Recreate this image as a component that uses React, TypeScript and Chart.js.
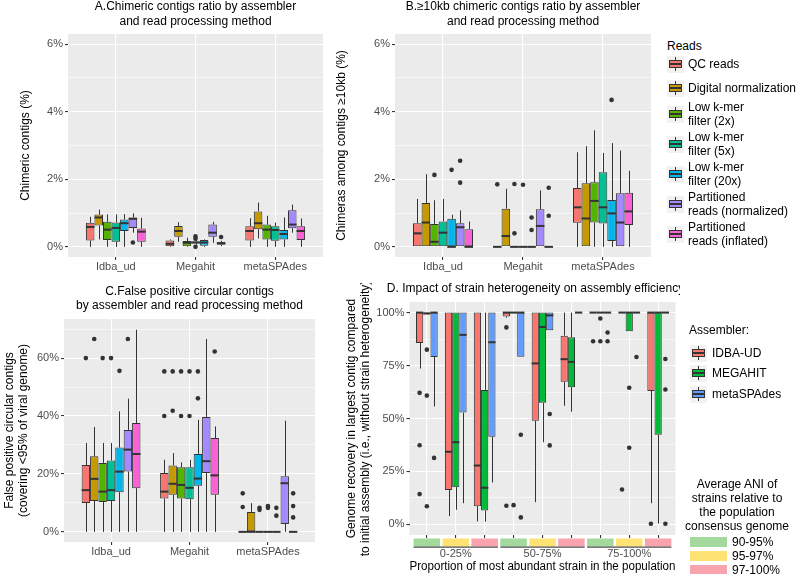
import React, { useEffect, useRef } from 'react';
import { Chart, registerables } from 'chart.js';

Chart.register(...registerables);

const FONT = '"Liberation Sans", Arial, Helvetica, sans-serif';

// ---------- shared categories ----------
const assemblerCats = ['Idba_ud', 'Megahit', 'metaSPAdes'];
const readTypes = [
  'QC reads', 'Digital normalization', 'Low k-mer filter (2x)', 'Low k-mer filter (5x)',
  'Low k-mer filter (20x)', 'Partitioned reads (normalized)', 'Partitioned reads (inflated)',
];
const readLegendLines = [
  ['QC reads'], ['Digital normalization'], ['Low k-mer', 'filter (2x)'], ['Low k-mer', 'filter (5x)'],
  ['Low k-mer', 'filter (20x)'], ['Partitioned', 'reads (normalized)'], ['Partitioned', 'reads (inflated)'],
];
const readColors = ['#F8766D', '#C49A00', '#53B400', '#00C094', '#00B6EB', '#A58AFF', '#FB61D7'];

// ---------- Panel A: chimeric contigs (%) ; [min, q1, median, q3, max] per assembler ----------
const chimericBoxes = [
  [[0, 0.19, 0.59, 0.71, 0.89], [0, 0.02, 0.09, 0.19, 0.22], [0, 0.19, 0.47, 0.61, 0.85]],
  [[0.22, 0.63, 0.87, 0.96, 1.1], [0.15, 0.3, 0.47, 0.62, 0.73], [0.25, 0.52, 0.7, 1.05, 1.31]],
  [[0, 0.2, 0.51, 0.74, 0.96], [0, 0.02, 0.12, 0.17, 0.27], [0, 0.22, 0.51, 0.66, 0.92]],
  [[0, 0.15, 0.56, 0.72, 0.96], [0.06, 0.1, 0.13, 0.16, 0.2], [0, 0.18, 0.5, 0.61, 0.72]],
  [[0, 0.47, 0.7, 0.81, 0.97], [0, 0.03, 0.13, 0.2, 0.22], [0, 0.22, 0.38, 0.5, 0.87]],
  [[0.42, 0.56, 0.83, 0.87, 0.99], [0.12, 0.3, 0.42, 0.66, 0.74], [0.42, 0.55, 0.66, 1.08, 1.25]],
  [[0, 0.15, 0.45, 0.54, 0.86], [0.02, 0.06, 0.11, 0.14, 0.18], [0, 0.2, 0.47, 0.61, 0.84]],
];
const chimericOutliers = [
  [[], [], []],
  [[], [], []],
  [[], [], []],
  [[], [0.31, 0.24, 0], []],
  [[], [], []],
  [[0.13], [], []],
  [[], [0.29], []],
];
const chimericTicks = [0, 1, 2, 3, 4, 5, 6];
const chimericMajor = [0, 2, 4, 6];

// ---------- Panel B: chimeras among contigs >=10kb (%) ----------
const longChimBoxes = [
  [[0, 0, 0.4, 0.7, 1.42], [0, 0, 0, 0, 0], [0, 0.71, 1.17, 1.74, 2.8]],
  [[0, 0, 0.72, 1.3, 2.15], [0, 0, 0.32, 1.13, 1.72], [0, 0, 0.84, 1.88, 2.98]],
  [[0, 0, 0.15, 0.68, 1.38], [0, 0, 0, 0, 0], [0, 0.72, 1.36, 1.91, 3.45]],
  [[0, 0, 0.42, 0.75, 1.42], [0, 0, 0, 0, 0], [0, 0.69, 1.17, 2.21, 2.78]],
  [[0, 0, 0, 0.83, 0.95], [0, 0, 0, 0, 0], [0, 0.17, 0.99, 1.39, 3.07]],
  [[0, 0, 0.58, 0.7, 1.08], [0, 0, 0.62, 1.11, 1.67], [0, 0, 0.72, 1.59, 2.85]],
  [[0, 0, 0, 0.52, 0.75], [0, 0, 0, 0, 0], [0, 0.65, 1.05, 1.6, 2.25]],
];
const longChimOutliers = [
  [[], [1.85], []],
  [[], [], []],
  [[2.13], [1.86, 0.4], []],
  [[], [1.84], []],
  [[2.28], [0.87, 0.5], [4.35]],
  [[2.55, 1.9], [], []],
  [[], [1.75, 0.92], []],
];

// ---------- Panel C: false positive circular contigs (%) ----------
const circularBoxes = [
  [[0, 10, 14.4, 23.1, 30.7], [0, 11.5, 13.9, 20.3, 24.9], [0, 0, 0, 0, 0]],
  [[0, 10.7, 18.3, 26.1, 36.2], [0, 12.8, 16.6, 22.9, 27.2], [0, 0, 0, 6.9, 9.9]],
  [[0, 10.3, 13.9, 23.8, 30.7], [0, 11.5, 16.2, 22.3, 24], [0, 0, 0, 0, 0]],
  [[0, 10.7, 14.4, 24.6, 30.7], [0, 11.3, 15.2, 22.3, 24.9], [0, 0, 0, 0, 0]],
  [[0, 13.7, 20.8, 29.1, 41.6], [0, 15.9, 18.4, 26.9, 38.7], [0, 0, 0, 0, 0]],
  [[0, 20.8, 28.4, 35.2, 46], [0, 20.3, 24.4, 39.7, 66.6], [0, 2.7, 16.8, 19.2, 38.4]],
  [[0, 15.1, 26.9, 37.6, 69.8], [0, 12.8, 19.5, 32.4, 36.4], [0, 0, 0, 0, 0]],
];
const circularOutliers = [
  [[60], [55.4, 40], [13.3, 8.6]],
  [[66.6], [55.4, 41.8], []],
  [[60], [55.4, 40], [8.3, 7.6]],
  [[60], [55.4, 40], [8.9, 8.3]],
  [[55.6], [55.4, 46.1], [8.3, 5.6]],
  [[66.6], [], []],
  [[], [62.3], [13.3, 8.9, 5]],
];
const circularTicks = [0, 10, 20, 30, 40, 50, 60, 70];
const circularMajor = [0, 20, 40, 60];

// ---------- Panel D: genome recovery (%) ----------
const proportionGroups = ['0-25%', '50-75%', '75-100%'];
const aniLevels = ['90-95%', '95-97%', '97-100%'];
const aniColors = ['#A3D99C', '#FFE274', '#F9A3AE'];
const assemblerNames = ['IDBA-UD', 'MEGAHIT', 'metaSPAdes'];
const assemblerColors = ['#F8766D', '#00BA38', '#619CFF'];
const recoveryBoxes = [
  [[73.6, 85.7, 100, 100, 100], [3.9, 16.2, 34.3, 100, 100], [1.4, 8.6, 27.8, 100, 100],
   [97.6, 98.2, 100, 100, 100], [10.5, 48.9, 76, 100, 100], [56, 67.3, 78, 89.1, 100],
   [100, 100, 100, 100, 100], [100, 100, 100, 100, 100], [10, 63, 100, 100, 100]],
  [[99, 99.2, 99.6, 100, 100], [6.9, 17.6, 38.8, 100, 100], [1.3, 6.6, 17.3, 63.5, 100],
   [100, 100, 100, 100, 100], [38.8, 57.4, 93.2, 100, 100], [53.2, 64.8, 76.7, 88.4, 100],
   [100, 100, 100, 100, 100], [91.2, 91.2, 100, 100, 100], [0.4, 42.3, 100, 100, 100]],
  [[55.7, 79, 100, 100, 100], [10, 52.8, 89.5, 100, 100], [19.8, 41.4, 86, 100, 100],
   [79.2, 79.2, 100, 100, 100], [91.7, 91.7, 98.7, 100, 100], [100, 100, 100, 100, 100],
   [100, 100, 100, 100, 100], [100, 100, 100, 100, 100], [100, 100, 100, 100, 100]],
];
const recoveryOutliers = [
  [[62.1, 37.4, 14.3], [], [], [93, 8.8], [], [], [86.5], [16.5], [0.3]],
  [[82.5, 60.8, 8.6], [], [], [9.1], [], [], [97.2, 86.5], [64.5, 36.2], []],
  [[31.4], [], [], [42.3, 3.3], [52.1, 37.3], [], [90.6, 86.5], [79], [78.1, 63.7, 0.3]],
];
const recoveryTicks = [0, 12.5, 25, 37.5, 50, 62.5, 75, 87.5, 100];
const recoveryMajor = [0, 25, 50, 75, 100];

// ---------- box plot plugin ----------
const boxPlotPlugin = {
  id: 'boxPlot',
  beforeDraw(chart: any) {
    const { ctx, chartArea: a } = chart;
    ctx.save();
    ctx.fillStyle = '#EBEBEB';
    ctx.fillRect(a.left, a.top, a.right - a.left, a.bottom - a.top);
    ctx.restore();
  },
  beforeDatasetsDraw(chart: any) {
    const { ctx } = chart;
    const ys = chart.scales.y;
    ctx.save();
    ctx.strokeStyle = '#333333';
    ctx.lineWidth = 1;
    chart.data.datasets.forEach((ds: any, di: number) => {
      chart.getDatasetMeta(di).data.forEach((el: any, i: number) => {
        const s = ds.stats[i];
        const x = Math.round(el.x) + 0.5;
        ctx.beginPath();
        ctx.moveTo(x, ys.getPixelForValue(s[3]));
        ctx.lineTo(x, ys.getPixelForValue(s[4]));
        ctx.moveTo(x, ys.getPixelForValue(s[1]));
        ctx.lineTo(x, ys.getPixelForValue(s[0]));
        ctx.stroke();
      });
    });
    ctx.restore();
  },
  afterDatasetsDraw(chart: any) {
    const { ctx } = chart;
    const ys = chart.scales.y;
    ctx.save();
    chart.data.datasets.forEach((ds: any, di: number) => {
      chart.getDatasetMeta(di).data.forEach((el: any, i: number) => {
        const s = ds.stats[i];
        const hw = el.width / 2;
        const ym = ys.getPixelForValue(s[2]);
        ctx.strokeStyle = '#333333';
        ctx.lineWidth = 2;
        ctx.beginPath();
        ctx.moveTo(el.x - hw, ym);
        ctx.lineTo(el.x + hw, ym);
        ctx.stroke();
        ctx.fillStyle = '#333333';
        (ds.outliers[i] || []).forEach((v: number) => {
          ctx.beginPath();
          ctx.arc(el.x, ys.getPixelForValue(v), 2.3, 0, Math.PI * 2);
          ctx.fill();
        });
      });
    });
    ctx.restore();
  },
  afterDraw(chart: any, _args: any, opts: any) {
    const { ctx, chartArea: a } = chart;
    ctx.save();
    ctx.fillStyle = '#000000';
    ctx.font = `12px ${FONT}`;
    ctx.textAlign = 'center';
    ctx.textBaseline = 'middle';
    const cx = (a.left + a.right) / 2 + (opts.titleDx || 0);
    (opts.title || []).forEach((line: string, i: number) => {
      ctx.fillText(line, cx, a.top + opts.titleY[i]);
    });
    if (opts.strips) {
      const xs = chart.scales.x;
      const { colors, groupSize } = opts.strips;
      const edges: number[][] = [];
      colors.forEach((c: string, i: number) => {
        const v = i + 1;
        const l = xs.getPixelForValue(v - 0.5) + 1.2;
        const r = xs.getPixelForValue(v + 0.5) - 1.2;
        ctx.fillStyle = c;
        ctx.fillRect(l, a.bottom + 3.5, r - l, 8);
        edges.push([l, r]);
      });
      ctx.strokeStyle = '#4D4D4D';
      ctx.lineWidth = 1.3;
      for (let g = 0; g < colors.length / groupSize; g++) {
        const l = edges[g * groupSize][0];
        const r = edges[g * groupSize + groupSize - 1][1];
        ctx.beginPath();
        ctx.moveTo(l, a.bottom + 12.2);
        ctx.lineTo(r, a.bottom + 12.2);
        ctx.stroke();
      }
    }
    ctx.restore();
  },
};

// ---------- chart config builder ----------
function boxConfig(p: any) {
  const datasets = p.groups.map((g: string, gi: number) => ({
    label: g,
    data: p.boxes[gi].map((s: number[], ci: number) => ({ x: ci + 1, y: [s[1], s[3]] })),
    stats: p.boxes[gi],
    outliers: p.outliers[gi],
    backgroundColor: p.colors[gi],
    borderColor: '#333333',
    borderWidth: 1,
    borderSkipped: false,
    categoryPercentage: 0.75,
    barPercentage: 1,
  }));
  const nCat = p.boxes[0].length;
  const xVals = p.boxes[0].map((_: any, i: number) => i + 1);
  const isMajor = (v: number) => p.yMajor.includes(v);
  return {
    type: 'bar',
    data: { datasets },
    options: {
      animation: false,
      responsive: false,
      maintainAspectRatio: false,
      devicePixelRatio: 1,
      events: [],
      layout: { padding: p.padding },
      plugins: {
        legend: { display: false },
        tooltip: { enabled: false },
        title: { display: false },
        boxPlot: { title: p.title, titleY: p.titleY, titleDx: p.titleDx, strips: p.strips },
      },
      scales: {
        x: {
          type: 'linear',
          min: 0.4,
          max: nCat + 0.6,
          offset: false,
          border: { display: false },
          grid: { offset: false, color: '#FFFFFF', lineWidth: 1.1, tickColor: '#333333', tickLength: 3 },
          afterBuildTicks: (s: any) => { s.ticks = xVals.map((v: number) => ({ value: v })); },
          afterFit: (s: any) => { s.height = p.xHeight; },
          ticks: {
            autoSkip: false, maxRotation: 0, minRotation: 0, padding: p.xTickPad,
            color: '#4D4D4D', font: { family: FONT, size: 11 },
            callback: (v: number) => p.xLabel(v),
          },
          title: p.xTitle
            ? { display: true, text: p.xTitle, color: '#000000', font: { family: FONT, size: 12 }, padding: { top: 0, bottom: 0 } }
            : { display: false },
        },
        y: {
          type: 'linear',
          min: p.yMin,
          max: p.yMax,
          border: { display: false },
          grid: {
            color: '#FFFFFF',
            lineWidth: (c: any) => (c.tick && isMajor(c.tick.value) ? 1.1 : 0.55),
            tickColor: (c: any) => (c.tick && isMajor(c.tick.value) ? '#333333' : 'rgba(0,0,0,0)'),
            tickLength: 3,
          },
          afterBuildTicks: (s: any) => { s.ticks = p.yTicks.map((v: number) => ({ value: v })); },
          afterFit: (s: any) => { s.width = p.yWidth; },
          ticks: {
            autoSkip: false, padding: 2, color: '#4D4D4D', font: { family: FONT, size: 11 },
            callback: (v: number) => (isMajor(v) ? `${v}%` : ''),
          },
          title: {
            display: true, text: p.yTitle, color: '#000000',
            font: { family: FONT, size: 12, lineHeight: 1.1 },
            padding: { top: p.yTitlePad, bottom: 0 },
          },
        },
      },
    },
    plugins: [boxPlotPlugin],
  };
}

const panelA = {
  groups: readTypes, colors: readColors, boxes: chimericBoxes, outliers: chimericOutliers,
  yMin: -0.3, yMax: 6.3, yTicks: chimericTicks, yMajor: chimericMajor,
  xLabel: (v: number) => assemblerCats[v - 1] ?? '',
  yTitle: 'Chimeric contigs (%)', yTitlePad: 18.8, yWidth: 68, xHeight: 33, xTickPad: 0,
  padding: { top: 34, right: 32, bottom: 0, left: 0 },
  title: ['A.Chimeric contigs ratio by assembler', 'and read processing method'], titleY: [-27.3, -12.3], titleDx: 0,
};
const panelB = {
  groups: readTypes, colors: readColors, boxes: longChimBoxes, outliers: longChimOutliers,
  yMin: -0.3, yMax: 6.3, yTicks: chimericTicks, yMajor: chimericMajor,
  xLabel: (v: number) => assemblerCats[v - 1] ?? '',
  yTitle: 'Chimeras among contigs \u226510kb (%)', yTitlePad: 4.8, yWidth: 65, xHeight: 33, xTickPad: 0,
  padding: { top: 34, right: 9, bottom: 0, left: 0 },
  title: ['B.\u226510kb chimeric contigs ratio by assembler', 'and read processing method'], titleY: [-27.3, -12.3], titleDx: 0,
};
const panelC = {
  groups: readTypes, colors: readColors, boxes: circularBoxes, outliers: circularOutliers,
  yMin: -3.5, yMax: 73.5, yTicks: circularTicks, yMajor: circularMajor,
  xLabel: (v: number) => assemblerCats[v - 1] ?? '',
  yTitle: ['False positive circular contigs', '(covering <95% of viral genome)'], yTitlePad: 3.4, yWidth: 64, xHeight: 32, xTickPad: 0,
  padding: { top: 36, right: 40, bottom: 0, left: 0 },
  title: ['C.False positive circular contigs', 'by assembler and read processing method'], titleY: [-27, -13], titleDx: 0,
};
const panelD = {
  groups: assemblerNames, colors: assemblerColors, boxes: recoveryBoxes, outliers: recoveryOutliers,
  yMin: -5, yMax: 105, yTicks: recoveryTicks, yMajor: recoveryMajor,
  xLabel: (v: number) => ((v - 1) % 3 === 1 ? proportionGroups[Math.floor((v - 1) / 3)] : ''),
  xTitle: 'Proportion of most abundant strain in the population',
  yTitle: ['Genome recovery in largest contig compared', 'to initial assembly (i.e., without strain heterogeneity)'],
  yTitlePad: 5.4, yWidth: 69.5, xHeight: 39, xTickPad: 8.9,
  padding: { top: 19, right: 4.5, bottom: 0, left: 0 },
  title: ['D. Impact of strain heterogeneity on assembly efficiency'], titleY: [-13], titleDx: -7,
  strips: { colors: proportionGroups.flatMap(() => aniColors), groupSize: aniLevels.length },
};

function ChartCanvas({ spec, left, top, width, height }: any) {
  const ref = useRef<HTMLCanvasElement>(null);
  useEffect(() => {
    const chart = new Chart(ref.current as HTMLCanvasElement, boxConfig(spec) as any);
    return () => chart.destroy();
  }, []);
  return (
    <canvas ref={ref} width={width} height={height}
      style={{ position: 'absolute', left, top, width, height }} />
  );
}

function BoxKey({ x, cy, color }: any) {
  return (
    <div style={{ position: 'absolute', left: x, top: cy - 8.5, width: 17, height: 17, background: '#F2F2F2' }}>
      <div style={{ position: 'absolute', left: 8, top: 1.5, width: 1, height: 14, background: '#333333' }} />
      <div style={{ position: 'absolute', left: 2, top: 4.5, width: 13, height: 8, background: color, border: '1px solid #333333', boxSizing: 'border-box' }} />
      <div style={{ position: 'absolute', left: 2, top: 7.8, width: 13, height: 1.5, background: '#333333' }} />
    </div>
  );
}

function Txt({ x, cy, lines, align, w }: any) {
  const n = lines.length;
  return (
    <div style={{
      position: 'absolute', left: x, top: cy - (n * 14) / 2, width: w, fontSize: 12, lineHeight: '14px',
      color: '#000', whiteSpace: 'nowrap', textAlign: align || 'left', fontFamily: FONT,
    }}>
      {lines.map((l: string, i: number) => <div key={i}>{l}</div>)}
    </div>
  );
}

const readsLegendY = [64, 88, 114, 144, 174, 204, 234];
const assemblerLegendY = [353, 373, 394];
const aniLegendY = [542, 556, 570];

export default function App() {
  return (
    <div style={{ position: 'fixed', left: 0, top: 0, width: 797, height: 574, background: '#FFFFFF', overflow: 'hidden', fontFamily: FONT }}>
      <ChartCanvas spec={panelA} left={0} top={0} width={355} height={290} />
      <ChartCanvas spec={panelB} left={330} top={0} width={330} height={290} />
      <ChartCanvas spec={panelC} left={0} top={283} width={355} height={291} />
      <ChartCanvas spec={panelD} left={340} top={283} width={340} height={291} />

      <Txt x={667} cy={46} lines={['Reads']} />
      {readLegendLines.map((lines, i) => (
        <React.Fragment key={i}>
          <BoxKey x={667} cy={readsLegendY[i]} color={readColors[i]} />
          <Txt x={688} cy={readsLegendY[i]} lines={lines} />
        </React.Fragment>
      ))}

      <Txt x={689} cy={330} lines={['Assembler:']} />
      {assemblerNames.map((n, i) => (
        <React.Fragment key={n}>
          <BoxKey x={690} cy={assemblerLegendY[i]} color={assemblerColors[i]} />
          <Txt x={712} cy={assemblerLegendY[i]} lines={[n]} />
        </React.Fragment>
      ))}

      <Txt x={677} cy={505} w={120} align="center" lines={['Average ANI of', 'strains relative to', 'the population', 'consensus genome']} />
      {aniLevels.map((n, i) => (
        <React.Fragment key={n}>
          <div style={{ position: 'absolute', left: 690, top: aniLegendY[i] - 5, width: 37, height: 10, background: aniColors[i] }} />
          <Txt x={732} cy={aniLegendY[i]} lines={[n]} />
        </React.Fragment>
      ))}
    </div>
  );
}
